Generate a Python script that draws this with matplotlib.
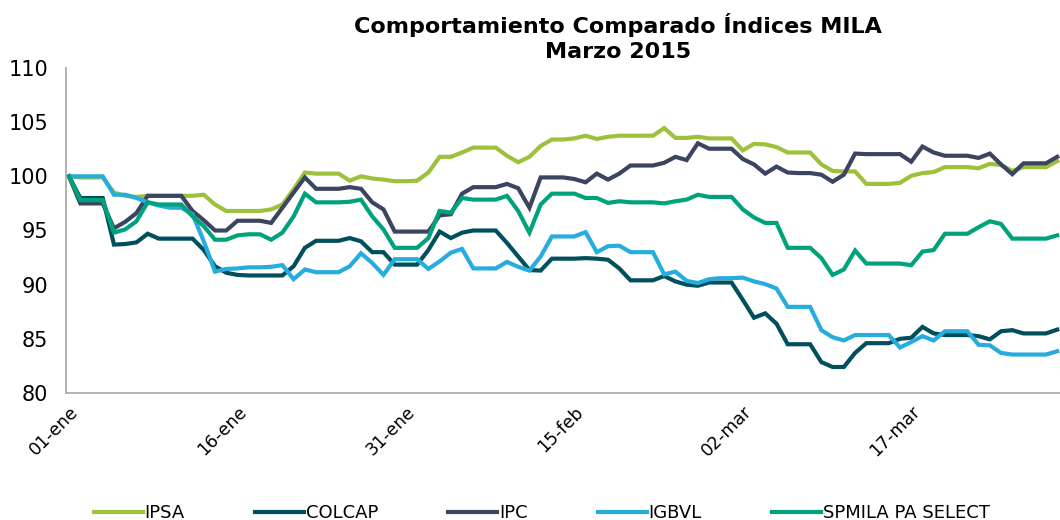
import pandas as pd
import matplotlib
matplotlib.use("Agg")
from matplotlib import pyplot as plt
from matplotlib.transforms import ScaledTranslation

# Fechas diarias (incluye fines de semana)
fechas = pd.date_range("2015-01-01", "2015-03-30", freq="D")

ipsa = [100, 99.9, 99.9, 99.9, 98.5, 98.2, 98.1, 98.2, 98.2, 98.2, 98.2, 98.2, 98.3, 97.4, 96.8, 96.8,
        96.8, 96.8, 96.95, 97.4, 98.8, 100.35, 100.25, 100.25, 100.25, 99.6, 100.0, 99.8, 99.7, 99.55, 99.55,
        99.6, 100.35, 101.8, 101.8, 102.2, 102.65, 102.65, 102.65, 101.9, 101.3, 101.8, 102.8, 103.4, 103.4, 103.5,
        103.75, 103.45, 103.65, 103.75, 103.75, 103.75, 103.75, 104.45, 103.55, 103.55, 103.65, 103.5, 103.5, 103.5, 102.4,
        103.0, 102.95, 102.7, 102.2, 102.2, 102.2, 101.1, 100.5, 100.45, 100.45, 99.3, 99.3, 99.3, 99.4, 100.05,
        100.3, 100.4, 100.85, 100.85, 100.85, 100.75, 101.15, 101.05, 100.5, 100.85, 100.85, 100.85, 101.4]

colcap = [100, 98.0, 98.0, 98.0, 93.7, 93.75, 93.9, 94.7, 94.25, 94.25, 94.25, 94.25, 93.2, 91.7, 91.1, 90.9,
          90.85, 90.85, 90.85, 90.85, 91.7, 93.4, 94.05, 94.05, 94.05, 94.3, 94.0, 93.0, 93.0, 91.85, 91.85,
          91.85, 93.2, 94.9, 94.3, 94.8, 95.0, 95.0, 95.0, 93.85, 92.6, 91.35, 91.3, 92.4, 92.4, 92.4,
          92.45, 92.4, 92.3, 91.5, 90.4, 90.4, 90.4, 90.8, 90.3, 90.0, 89.9, 90.2, 90.2, 90.2, 88.6,
          86.95, 87.35, 86.4, 84.5, 84.5, 84.5, 82.85, 82.4, 82.4, 83.7, 84.6, 84.6, 84.6, 85.0, 85.1,
          86.1, 85.5, 85.35, 85.35, 85.35, 85.25, 84.95, 85.7, 85.8, 85.5, 85.5, 85.5, 85.85]

ipc = [100, 97.5, 97.5, 97.5, 95.2, 95.8, 96.6, 98.2, 98.2, 98.2, 98.2, 96.8, 95.95, 95.0, 95.0, 95.9,
       95.9, 95.9, 95.7, 97.1, 98.5, 99.9, 98.85, 98.85, 98.85, 99.0, 98.85, 97.6, 96.95, 94.9, 94.9,
       94.9, 94.9, 96.4, 96.5, 98.4, 99.0, 99.0, 99.0, 99.3, 98.9, 97.1, 99.9, 99.9, 99.9, 99.75,
       99.45, 100.25, 99.7, 100.25, 101.0, 101.0, 101.0, 101.25, 101.8, 101.5, 103.05, 102.55, 102.55, 102.55, 101.6,
       101.1, 100.25, 100.9, 100.35, 100.3, 100.3, 100.15, 99.5, 100.15, 102.1, 102.05, 102.05, 102.05, 102.05, 101.35,
       102.75, 102.2, 101.9, 101.9, 101.9, 101.7, 102.1, 101.1, 100.2, 101.2, 101.2, 101.2, 101.8]

igbvl = [100, 100, 100, 100, 98.3, 98.3, 98.0, 97.6, 97.3, 97.1, 97.1, 96.5, 94.0, 91.2, 91.45, 91.5,
         91.6, 91.6, 91.65, 91.8, 90.5, 91.4, 91.15, 91.15, 91.15, 91.7, 92.9, 92.0, 90.9, 92.35, 92.35,
         92.35, 91.45, 92.15, 92.95, 93.3, 91.5, 91.5, 91.5, 92.1, 91.65, 91.3, 92.6, 94.45, 94.45, 94.45,
         94.85, 93.0, 93.55, 93.6, 93.0, 93.0, 93.0, 90.95, 91.2, 90.35, 90.15, 90.5, 90.6, 90.6, 90.65,
         90.3, 90.05, 89.65, 87.95, 87.95, 87.95, 85.8, 85.15, 84.85, 85.35, 85.35, 85.35, 85.35, 84.2, 84.7,
         85.25, 84.85, 85.7, 85.7, 85.7, 84.45, 84.4, 83.7, 83.55, 83.55, 83.55, 83.55, 83.85]

spmila = [100, 97.8, 97.8, 97.8, 94.8, 95.1, 95.85, 97.6, 97.4, 97.4, 97.4, 96.3, 95.4, 94.15, 94.15, 94.55,
          94.65, 94.65, 94.15, 94.8, 96.3, 98.4, 97.6, 97.6, 97.6, 97.65, 97.85, 96.3, 95.1, 93.4, 93.4,
          93.4, 94.3, 96.8, 96.65, 98.0, 97.85, 97.85, 97.85, 98.2, 96.8, 94.8, 97.4, 98.4, 98.4, 98.4,
          98.0, 98.0, 97.55, 97.7, 97.6, 97.6, 97.6, 97.5, 97.7, 97.85, 98.3, 98.1, 98.1, 98.1, 96.95,
          96.2, 95.7, 95.7, 93.4, 93.4, 93.4, 92.45, 90.9, 91.4, 93.15, 91.95, 91.95, 91.95, 91.95, 91.8,
          93.05, 93.2, 94.7, 94.7, 94.7, 95.3, 95.85, 95.6, 94.25, 94.25, 94.25, 94.25, 94.55]

nombres = ["IPSA", "COLCAP", "IPC", "IGBVL", "SPMILA PA SELECT"]
colores = ["#9dc13b", "#004f5c", "#3b4562", "#27acdf", "#00a27c"]
meses = ["ene", "feb", "mar"]

fig = plt.figure(figsize=(10.6, 5.2), dpi=100)
ax = fig.add_axes([66 / 1060, 127 / 520, 994 / 1060, 325 / 520])

for serie, nombre, color in zip([ipsa, colcap, ipc, igbvl, spmila], nombres, colores):
    ax.plot(fechas, serie, color=color, lw=3, label=nombre, solid_joinstyle="miter")

ax.set_ylim(80, 110)
ax.set_yticks(range(80, 111, 5))
ax.set_xlim(fechas[0] - pd.Timedelta(hours=6.5), fechas[0] + pd.Timedelta(days=88.25))

# Etiquetas cada 15 dias, giradas 45 grados
ticks = fechas[::15]
ax.set_xticks(ticks)
ax.set_xticklabels([f"{d.day:02d}-{meses[d.month - 1]}" for d in ticks],
                   rotation=45, ha="right", va="top", rotation_mode="anchor")
desplazar = ScaledTranslation(0.1, 0, fig.dpi_scale_trans)
for lab in ax.get_xticklabels():
    lab.set_transform(lab.get_transform() + desplazar)

for s in ["top", "right"]:
    ax.spines[s].set_visible(False)
for s in ["left", "bottom"]:
    ax.spines[s].set_color("#a6a6a6")
    ax.spines[s].set_linewidth(1.2)
ax.tick_params(axis="y", length=0, pad=13, labelsize=15)
ax.tick_params(axis="x", length=0, pad=7, labelsize=12.5)

fig.text(0.583, 0.975, "Comportamiento Comparado Índices MILA\nMarzo 2015", ha="center", va="top",
         fontsize=16, fontweight="bold", linespacing=1.3)

fig.legend(loc="lower center", bbox_to_anchor=(0.511, -0.035), ncol=5, frameon=False, fontsize=13,
           handlelength=2.7, handletextpad=0.1, columnspacing=3.9)

fig.savefig("out.png", dpi=100)
